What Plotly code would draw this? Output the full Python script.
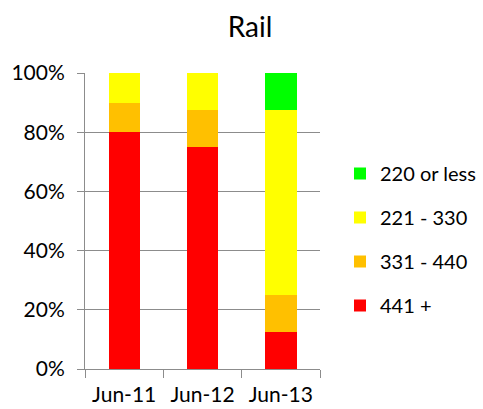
import plotly.graph_objects as go

categories = ["Jun-11", "Jun-12", "Jun-13"]
series_names = ["441 +", "331 - 440", "221 - 330", "220 or less"]
val_441 = [80, 75, 12.5]
val_331 = [10, 12.5, 12.5]
val_221 = [10, 12.5, 62.5]
val_220 = [0, 0, 12.5]
colors = ["#FF0000", "#FFC000", "#FFFF00", "#00FF00"]
tick_vals = [0, 20, 40, 60, 80, 100]
tick_text = ["0%", "20%", "40%", "60%", "80%", "100%"]

FONT = "Lato"
fig = go.Figure()
for i, (name, vals, col) in enumerate(zip(series_names, [val_441, val_331, val_221, val_220], colors)):
    fig.add_trace(go.Bar(x=categories, y=vals, name=name, marker=dict(color=col, line=dict(width=0)),
                         legendgroup=name, legendrank=100 - i))

fig.update_layout(
    width=483, height=409,
    barmode="stack", bargap=0.6,
    plot_bgcolor="white", paper_bgcolor="white",
    margin=dict(l=85, r=163, t=73, b=40),
    font=dict(family=FONT, size=21, color="#000000"),
    title=dict(text="Rail", x=250/483, xref="container", xanchor="center",
               y=1-27/409, yref="container", yanchor="middle",
               font=dict(family=FONT, size=28, color="#000000")),
    legend=dict(traceorder="grouped", tracegroupgap=15,
                xref="container", yref="container", x=340/483, y=1-154/409,
                xanchor="left", yanchor="top", font=dict(size=20),
                bgcolor="rgba(0,0,0,0)"),
    showlegend=True,
)
fig.update_yaxes(range=[0, 100], tickvals=tick_vals, ticktext=tick_text,
                 showgrid=True, gridcolor="#8C8C8C", gridwidth=1,
                 showline=True, linecolor="#8C8C8C", linewidth=1,
                 ticks="outside", ticklen=7, tickcolor="#8C8C8C", zeroline=False,
                 ticklabelstandoff=8, automargin=False)
fig.update_xaxes(showline=True, linecolor="#8C8C8C", linewidth=1,
                 ticks="outside", ticklen=8, tickcolor="#8C8C8C", tickson="boundaries",
                 showgrid=False, ticklabelstandoff=7, automargin=False)

fig.write_html("out.html")
